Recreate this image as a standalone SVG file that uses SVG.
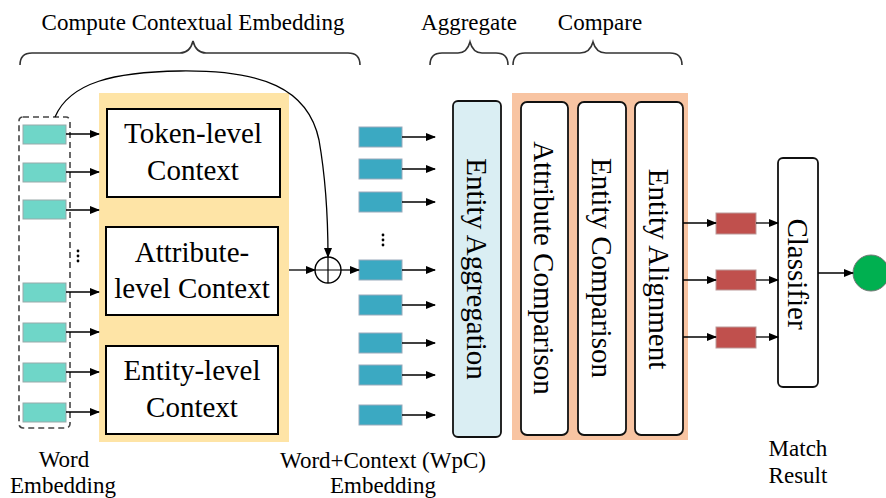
<svg xmlns="http://www.w3.org/2000/svg" width="886" height="498" viewBox="0 0 886 498">
<defs>
<marker id="ah" markerWidth="10" markerHeight="8" refX="9" refY="4" orient="auto" markerUnits="userSpaceOnUse">
<path d="M0,0 L10,4 L0,8 z" fill="#000"/>
</marker>
<style>
.lbl{font-size:23px;text-anchor:middle;fill:#000}
.big{font-size:29px;text-anchor:middle;fill:#000}
.brace{fill:none;stroke:#333;stroke-width:1.6}
.conn{fill:none;stroke:#000;stroke-width:1.3;marker-end:url(#ah)}
.we{fill:#6fd6c8;stroke:#9aa;stroke-width:1}
.wpc{fill:#3ba9c2;stroke:#9ab;stroke-width:1}
.mr{fill:#c0504d;stroke:#b99;stroke-width:1}
.box{fill:#fff;stroke:#000;stroke-width:2}
.rbox{fill:#fff;stroke:#111;stroke-width:1.8}
</style>
</defs>
<rect width="886" height="498" fill="#fff"/>

<g id="labels" font-family="Times New Roman, Times, Liberation Serif, DejaVu Serif, FreeSerif, serif">
<text class="lbl" x="193" y="30">Compute Contextual Embedding</text>
<text class="lbl" x="469" y="30">Aggregate</text>
<text class="lbl" x="600" y="30">Compare</text>
<text class="lbl" x="64" y="467">Word</text>
<text class="lbl" x="63" y="493">Embedding</text>
<text class="lbl" x="383" y="468">Word+Context (WpC)</text>
<text class="lbl" x="383" y="493">Embedding</text>
<text class="lbl" x="798" y="456">Match</text>
<text class="lbl" x="798" y="483">Result</text>
</g>

<g id="braces">
<path class="brace" d="M20,65 Q20,53 32,53 L180,53 Q190,53 193,41 Q196,53 206,53 L348,53 Q360,53 360,65"/>
<path class="brace" d="M430,65 Q430,53 442,53 L458,53 Q467,53 470,42 Q473,53 482,53 L496,53 Q508,53 508,65"/>
<path class="brace" d="M513,65 Q513,53 525,53 L580,53 Q590,53 593,42 Q596,53 606,53 L670,53 Q682,53 682,65"/>
</g>

<g id="word-embedding">
<rect x="19" y="117" width="51" height="311" rx="4" fill="none" stroke="#444" stroke-width="1.6" stroke-dasharray="6 4"/>
<rect class="we" x="23" y="125" width="43" height="19"/>
<rect class="we" x="23" y="163" width="43" height="19"/>
<rect class="we" x="23" y="200" width="43" height="19"/>
<rect class="we" x="23" y="283" width="43" height="19"/>
<rect class="we" x="23" y="323" width="43" height="19"/>
<rect class="we" x="23" y="363" width="43" height="19"/>
<rect class="we" x="23" y="403" width="43" height="19"/>
<circle cx="78" cy="251" r="1.4" fill="#000"/>
<circle cx="78" cy="256" r="1.4" fill="#000"/>
<circle cx="78" cy="261" r="1.4" fill="#000"/>
</g>

<g id="context-block">
<rect x="99" y="93" width="190" height="349" fill="#fee4a6"/>
</g>
<g id="token-level" font-family="Times New Roman, Times, Liberation Serif, DejaVu Serif, FreeSerif, serif">
<rect class="box" x="107" y="109" width="173" height="88"/>
<text class="big" x="193" y="143">Token-level</text>
<text class="big" x="193" y="180">Context</text>
</g>
<g id="attribute-level" font-family="Times New Roman, Times, Liberation Serif, DejaVu Serif, FreeSerif, serif">
<rect class="box" x="106" y="227" width="172" height="88"/>
<text class="big" x="192" y="262">Attribute-</text>
<text class="big" x="192" y="298">level Context</text>
</g>
<g id="entity-level" font-family="Times New Roman, Times, Liberation Serif, DejaVu Serif, FreeSerif, serif">
<rect class="box" x="106" y="346" width="172" height="88"/>
<text class="big" x="192" y="380">Entity-level</text>
<text class="big" x="192" y="417">Context</text>
</g>

<g id="plus">
<circle cx="328" cy="270" r="13" fill="#fff" stroke="#000" stroke-width="1.4"/>
<path d="M315,270 H341 M328,257 V283" stroke="#000" stroke-width="1.2"/>
</g>

<g id="wpc-embedding">
<rect class="wpc" x="359" y="127" width="43" height="20"/>
<rect class="wpc" x="359" y="159" width="43" height="20"/>
<rect class="wpc" x="359" y="192" width="43" height="20"/>
<rect class="wpc" x="359" y="260" width="43" height="20"/>
<rect class="wpc" x="359" y="295" width="43" height="20"/>
<rect class="wpc" x="359" y="333" width="43" height="20"/>
<rect class="wpc" x="359" y="365" width="43" height="20"/>
<rect class="wpc" x="359" y="405" width="43" height="20"/>
<circle cx="383" cy="235" r="1.4" fill="#000"/>
<circle cx="383" cy="240" r="1.4" fill="#000"/>
<circle cx="383" cy="245" r="1.4" fill="#000"/>
</g>

<g id="entity-aggregation" font-family="Times New Roman, Times, Liberation Serif, DejaVu Serif, FreeSerif, serif">
<rect x="453" y="101" width="48" height="336" rx="5" fill="#daeef3" stroke="#111" stroke-width="1.8"/>
<text class="big" transform="translate(477,269) rotate(90)" dy="10">Entity Aggregation</text>
</g>

<g id="compare-block">
<rect x="512" y="93" width="176" height="347" fill="#f8c4a2"/>
</g>
<g id="attribute-comparison" font-family="Times New Roman, Times, Liberation Serif, DejaVu Serif, FreeSerif, serif">
<rect class="rbox" x="521" y="102" width="47" height="333" rx="6"/>
<text class="big" transform="translate(544,268) rotate(90)" dy="10">Attribute Comparison</text>
</g>
<g id="entity-comparison" font-family="Times New Roman, Times, Liberation Serif, DejaVu Serif, FreeSerif, serif">
<rect class="rbox" x="578" y="102" width="48" height="333" rx="6"/>
<text class="big" transform="translate(602,268) rotate(90)" dy="10">Entity Comparison</text>
</g>
<g id="entity-alignment" font-family="Times New Roman, Times, Liberation Serif, DejaVu Serif, FreeSerif, serif">
<rect class="rbox" x="635" y="102" width="48" height="333" rx="6"/>
<text class="big" transform="translate(659,269) rotate(90)" dy="10">Entity Alignment</text>
</g>

<g id="match-vectors">
<rect class="mr" x="716" y="213" width="40" height="21"/>
<rect class="mr" x="716" y="270" width="40" height="20"/>
<rect class="mr" x="716" y="327" width="40" height="21"/>
</g>

<g id="classifier" font-family="Times New Roman, Times, Liberation Serif, DejaVu Serif, FreeSerif, serif">
<rect class="rbox" x="778" y="158" width="40" height="229" rx="5"/>
<text class="big" transform="translate(798,274) rotate(90)" dy="10">Classifier</text>
</g>

<g id="match-result">
<circle cx="871" cy="273" r="18" fill="#00b050" stroke="#777" stroke-width="1"/>
</g>

<g id="connectors">
<path class="conn" d="M66,134 H99"/>
<path class="conn" d="M66,172 H99"/>
<path class="conn" d="M66,210 H99"/>
<path class="conn" d="M66,292 H99"/>
<path class="conn" d="M66,332 H99"/>
<path class="conn" d="M66,372 H99"/>
<path class="conn" d="M66,412 H99"/>
<path class="conn" d="M55,117 C70,82 115,72 180,71 C262,70 308,88 319,140 C326,180 328,215 328,257"/>
<path class="conn" d="M289,270 H315"/>
<path class="conn" d="M341,270 H359"/>
<path class="conn" d="M402,137 H435"/>
<path class="conn" d="M402,169 H435"/>
<path class="conn" d="M402,202 H435"/>
<path class="conn" d="M402,270 H435"/>
<path class="conn" d="M402,305 H435"/>
<path class="conn" d="M402,343 H435"/>
<path class="conn" d="M402,375 H435"/>
<path class="conn" d="M402,415 H435"/>
<path class="conn" d="M683,223 H716"/>
<path class="conn" d="M683,280 H716"/>
<path class="conn" d="M683,337 H716"/>
<path class="conn" d="M756,223 H778"/>
<path class="conn" d="M756,280 H778"/>
<path class="conn" d="M756,337 H778"/>
<path class="conn" d="M818,273 H853"/>
</g>
</svg>
